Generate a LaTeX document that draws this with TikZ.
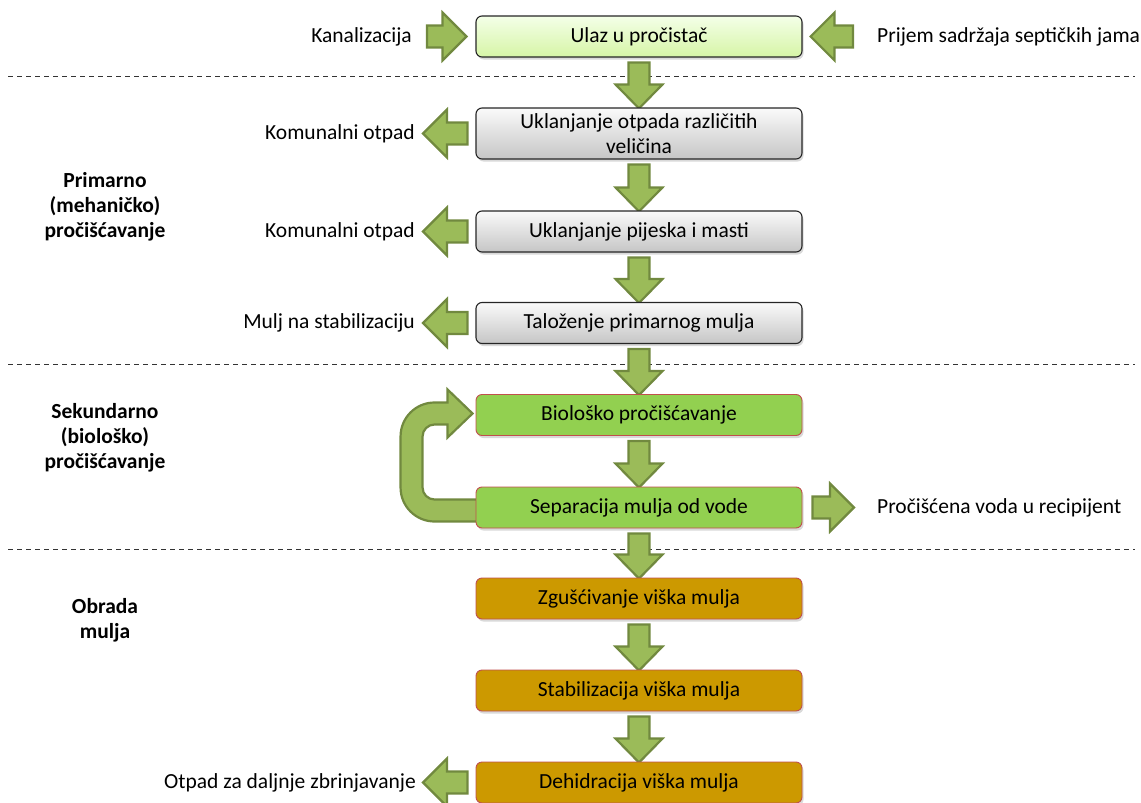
\documentclass[tikz,border=0pt]{standalone}
\usepackage{fontspec}
\setmainfont{Carlito}
\usetikzlibrary{calc,shadows,backgrounds}
\definecolor{arrfill}{HTML}{9BBB59}
\definecolor{arrline}{HTML}{71893F}
\definecolor{grn}{HTML}{92D050}
\definecolor{ochre}{HTML}{CC9900}
\definecolor{redb}{HTML}{C0504D}
\definecolor{limetop}{HTML}{F4FFE8}
\definecolor{limebot}{HTML}{D6F5A6}
\newcommand\myfs{\fontsize{21.5}{25}\selectfont}
% vertical block arrow: tail, tip
\newcommand\arrV[2]{\path[blockarrow] let \p1=#1, \p2=#2 in
  (\x1-10.5pt,\y1) -- (\x1+10.5pt,\y1) -- (\x1+10.5pt,\y2+24pt) -- (\x1+23.5pt,\y2+24pt)
  -- (\x1,\y2) -- (\x1-23.5pt,\y2+24pt) -- (\x1-10.5pt,\y2+24pt) -- cycle;}
% left-pointing block arrow: tail (right), tip (left)
\newcommand\arrL[2]{\path[blockarrow] let \p1=#1, \p2=#2 in
  (\x1,\y1+11pt) -- (\x2+24pt,\y1+11pt) -- (\x2+24pt,\y1+24pt) -- (\x2,\y1)
  -- (\x2+24pt,\y1-24pt) -- (\x2+24pt,\y1-11pt) -- (\x1,\y1-11pt) -- cycle;}
% right-pointing block arrow: tail (left), tip (right)
\newcommand\arrR[2]{\path[blockarrow] let \p1=#1, \p2=#2 in
  (\x1,\y1+11pt) -- (\x2-24pt,\y1+11pt) -- (\x2-24pt,\y1+24pt) -- (\x2,\y1)
  -- (\x2-24pt,\y1-24pt) -- (\x2-24pt,\y1-11pt) -- (\x1,\y1-11pt) -- cycle;}
\tikzset{
  box/.style={minimum width=326pt, minimum height=41pt, rounded corners=6pt,
    align=center, inner sep=2pt, font=\myfs,
    drop shadow={shadow xshift=1.5pt, shadow yshift=-2.5pt, opacity=0.3}},
  startbox/.style={box, draw=black!85, line width=1.1pt, top color=limetop, bottom color=limebot},
  graybox/.style={box, draw=black!85, line width=1.1pt, top color=gray!4, bottom color=gray!45},
  greenbox/.style={box, draw=redb, line width=0.9pt, fill=grn},
  ochrebox/.style={box, draw=redb, line width=0.9pt, fill=ochre},
  lbl/.style={inner sep=0pt, font=\myfs},
  sect/.style={inner sep=0pt, font=\myfs\bfseries, align=center},
  blockarrow/.style={fill=arrfill, draw=arrline, line width=2.2pt, line join=miter},
  sepline/.style={dash pattern=on 5pt off 4pt, line width=1pt, draw=black!80}
}
\begin{document}
\begin{tikzpicture}[x=1pt,y=1pt]
\useasboundingbox (0,0) rectangle (1141,-803);
% process boxes
\node[startbox] (b1) at (639,-36.5) {Ulaz u pročistač};
\node[graybox, minimum height=51pt] (b2) at (639,-133.5) {Uklanjanje otpada različitih\\veličina};
\node[graybox] (b3) at (639,-231.5) {Uklanjanje pijeska i masti};
\node[graybox] (b4) at (639,-323) {Taloženje primarnog mulja};
\node[greenbox] (b5) at (639,-415) {Biološko pročišćavanje};
\node[greenbox] (b6) at (639,-507.5) {Separacija mulja od vode};
\node[ochrebox] (b7) at (639,-598.5) {Zgušćivanje viška mulja};
\node[ochrebox] (b8) at (639,-690.5) {Stabilizacija viška mulja};
\node[ochrebox] (b9) at (639,-782.5) {Dehidracija viška mulja};
% side labels
\node[lbl, anchor=east] (lk) at (412,-36.5) {Kanalizacija};
\node[lbl, anchor=west] (lp) at (877,-36.5) {Prijem sadržaja septičkih jama};
\node[lbl, anchor=east] (l2) at (415,-133.5) {Komunalni otpad};
\node[lbl, anchor=east] (l3) at (415,-231.5) {Komunalni otpad};
\node[lbl, anchor=east] (l4) at (415,-323) {Mulj na stabilizaciju};
\node[lbl, anchor=west] (lv) at (877,-507.5) {Pročišćena voda u recipijent};
\node[lbl, anchor=east] (l9) at (416,-782.5) {Otpad za daljnje zbrinjavanje};
% section labels
\node[sect] (s1) at (105,-207) {Primarno\\(mehaničko)\\pročišćavanje};
\node[sect] (s2) at (105,-438) {Sekundarno\\(biološko)\\pročišćavanje};
\node[sect] (s3) at (105,-620) {Obrada\\mulja};
\begin{pgfonlayer}{background}
% separators
\draw[sepline] (8,-76) -- (1135,-76);
\draw[sepline] (8,-364) -- (1135,-364);
\draw[sepline] (8,-549) -- (1135,-549);
% vertical flow arrows
\arrV{($(b1.south)+(0,-5)$)}{($(b2.north)+(0,-1)$)}
\arrV{($(b2.south)+(0,-5)$)}{($(b3.north)+(0,-1)$)}
\arrV{($(b3.south)+(0,-5)$)}{($(b4.north)+(0,-1)$)}
\arrV{($(b4.south)+(0,-5)$)}{($(b5.north)+(0,-1)$)}
\arrV{($(b5.south)+(0,-5)$)}{($(b6.north)+(0,-1)$)}
\arrV{($(b6.south)+(0,-5)$)}{($(b7.north)+(0,-1)$)}
\arrV{($(b7.south)+(0,-5)$)}{($(b8.north)+(0,-1)$)}
\arrV{($(b8.south)+(0,-5)$)}{($(b9.north)+(0,-1)$)}
% horizontal arrows
\arrR{($(lk.east)+(15,0)$)}{($(b1.west)+(-9,0)$)}
\arrL{($(lp.west)+(-24,0)$)}{($(b1.east)+(8,0)$)}
\arrL{($(b2.west)+(-8,0)$)}{($(l2.east)+(8,0)$)}
\arrL{($(b3.west)+(-8,0)$)}{($(l3.east)+(8,0)$)}
\arrL{($(b4.west)+(-8,0)$)}{($(l4.east)+(8,0)$)}
\arrR{($(b6.east)+(10,0)$)}{($(lv.west)+(-23,0)$)}
\arrL{($(b9.west)+(-8,0)$)}{($(l9.east)+(7,0)$)}
% recirculation loop from b6 back to b5
\path[blockarrow] let \p1=(b6.west), \p2=(b5.west) in
  (\x1+4pt,\y1+8pt) -- (\x1-41pt,\y1+8pt) arc[start angle=270, end angle=180, radius=12pt]
  -- (\x1-53pt,\y2-21.5pt) arc[start angle=180, end angle=90, radius=12pt]
  -- (\x1-28pt,\y2-9.5pt) -- (\x1-28pt,\y2-22.5pt) -- (\x1-3pt,\y2+1.5pt)
  -- (\x1-28pt,\y2+25.5pt) -- (\x1-28pt,\y2+12.5pt)
  -- (\x1-41pt,\y2+12.5pt) arc[start angle=90, end angle=180, radius=34pt]
  -- (\x1-75pt,\y1+20pt) arc[start angle=180, end angle=270, radius=34pt]
  -- (\x1+4pt,\y1-14pt) -- cycle;
\end{pgfonlayer}
\end{tikzpicture}
\end{document}
